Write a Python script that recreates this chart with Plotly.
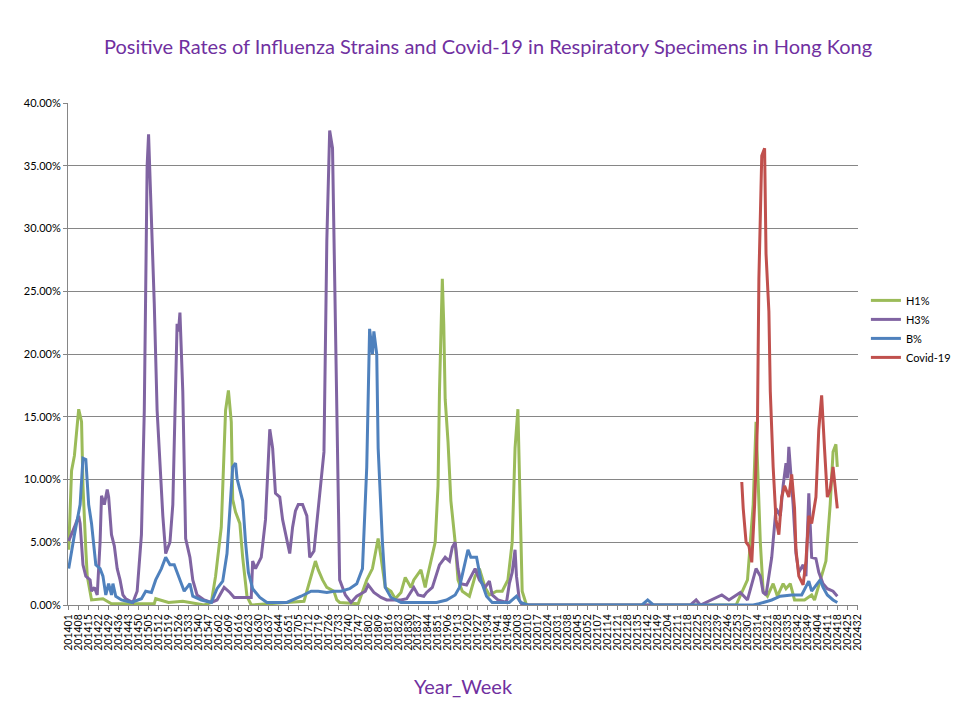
import plotly.graph_objects as go

# week counts per year as used in the source data
year_weeks = {2014: 52, 2015: 52, 2016: 53, 2017: 52, 2018: 52, 2019: 52,
              2020: 52, 2021: 52, 2022: 53, 2023: 52, 2024: 32}
weeks = [f"{y}{w:02d}" for y, n in year_weeks.items() for w in range(1, n + 1)]
tick_labels = weeks[::7]

h1_weeks = ["201401", "201403", "201405", "201408", "201410", "201411", "201413", "201414", "201417", "201425",
            "201431", "201509", "201510", "201519", "201529", "201544", "201549", "201552", "201604", "201607",
            "201609", "201611", "201612", "201614", "201617", "201619", "201622", "201625", "201709", "201717",
            "201719", "201722", "201725", "201730", "201732", "201734", "201747", "201801", "201805", "201809",
            "201811", "201814", "201818", "201821", "201825", "201828", "201832", "201834", "201839", "201842",
            "201843", "201846", "201849", "201851", "201852", "201902", "201903", "201904", "201906", "201908",
            "201911", "201913", "201916", "201921", "201925", "201928", "201932", "201935", "201940", "201944",
            "201948", "201951", "202001", "202003", "202004", "202006", "202009", "202252", "202307", "202311",
            "202313", "202316", "202318", "202321", "202325", "202328", "202332", "202334", "202337", "202340",
            "202347", "202352", "202402", "202406", "202410", "202413", "202415", "202417", "202418"]
h1_vals = [4.4, 10.7, 11.9, 15.6, 14.6, 9.5, 4.4, 2.3, 0.4, 0.5,
           0.1, 0.1, 0.5, 0.2, 0.3, 0.0, 0.2, 2.3, 6.2, 15.5,
           17.1, 14.6, 8.4, 7.4, 6.5, 3.8, 0.7, 0.0, 0.3, 3.5,
           2.8, 2.0, 1.4, 1.1, 0.4, 0.2, 0.1, 2.0, 2.9, 5.3,
           3.8, 1.4, 1.1, 0.5, 1.0, 2.2, 1.4, 2.0, 2.8, 1.4,
           2.0, 3.5, 5.0, 9.5, 17.0, 26.0, 22.4, 16.4, 13.0, 8.3,
           5.0, 2.0, 1.1, 0.7, 2.3, 2.9, 1.4, 0.8, 1.1, 1.1,
           2.0, 5.0, 12.5, 15.6, 11.0, 1.1, 0.0, 0.0, 2.0, 8.0,
           14.6, 5.0, 1.1, 0.7, 1.7, 0.7, 1.7, 1.3, 1.7, 0.4,
           0.4, 0.8, 0.4, 2.0, 3.5, 8.0, 12.2, 12.8, 11.0]

h3_weeks = ["201401", "201403", "201405", "201408", "201409", "201411", "201413", "201416", "201417", "201419",
            "201421", "201423", "201424", "201426", "201428", "201429", "201431", "201433", "201435", "201437",
            "201439", "201441", "201446", "201449", "201452", "201502", "201504", "201505", "201507", "201509",
            "201511", "201515", "201517", "201520", "201522", "201525", "201526", "201527", "201529", "201531",
            "201534", "201536", "201539", "201544", "201549", "201601", "201606", "201610", "201613", "201625",
            "201626", "201628", "201632", "201635", "201638", "201640", "201642", "201645", "201647", "201650",
            "201652", "201701", "201703", "201705", "201708", "201711", "201713", "201716", "201718", "201721",
            "201723", "201725", "201727", "201729", "201731", "201734", "201738", "201742", "201746", "201752",
            "201802", "201806", "201811", "201815", "201825", "201829", "201834", "201837", "201841", "201843",
            "201847", "201852", "201904", "201907", "201909", "201911", "201913", "201915", "201919", "201922",
            "201925", "201928", "201932", "201935", "201937", "201941", "201947", "201949", "201951", "202001",
            "202002", "202004", "202006", "202220", "202224", "202227", "202242", "202247", "202302", "202307",
            "202311", "202313", "202316", "202318", "202320", "202324", "202327", "202330", "202332", "202334",
            "202335", "202336", "202339", "202341", "202343", "202346", "202348", "202350", "202352", "202403",
            "202405", "202408", "202411", "202415", "202418"]
h3_vals = [5.1, 5.6, 6.2, 7.1, 6.5, 3.2, 2.3, 2.0, 1.1, 1.4,
           0.8, 5.0, 8.7, 8.0, 9.2, 8.6, 5.6, 4.7, 2.9, 2.0,
           0.8, 0.5, 0.2, 1.1, 5.6, 15.5, 35.0, 37.5, 31.0, 24.0,
           15.5, 7.1, 4.1, 5.0, 8.0, 22.4, 21.8, 23.3, 17.0, 5.3,
           3.8, 2.0, 0.8, 0.4, 0.2, 0.4, 1.4, 1.0, 0.6, 0.6,
           3.5, 2.9, 3.8, 6.8, 14.0, 12.5, 8.9, 8.6, 6.8, 5.0,
           4.1, 6.2, 7.5, 8.0, 8.0, 7.1, 3.8, 4.3, 6.5, 10.1,
           12.2, 29.0, 37.8, 36.4, 23.0, 2.0, 0.8, 0.2, 0.7, 1.1,
           1.6, 1.0, 0.6, 0.4, 0.4, 0.5, 1.4, 0.8, 0.7, 1.0,
           1.4, 3.2, 3.8, 3.5, 4.6, 5.0, 2.9, 1.7, 1.6, 2.3,
           2.9, 2.0, 1.4, 1.9, 0.8, 0.4, 0.2, 1.7, 2.6, 4.4,
           2.3, 0.4, 0.0, 0.0, 0.4, 0.0, 0.8, 0.4, 1.0, 0.4,
           2.0, 2.9, 2.3, 1.0, 0.8, 3.8, 7.7, 7.1, 9.5, 11.3,
           10.1, 12.6, 8.0, 4.1, 2.6, 3.2, 2.3, 8.9, 3.8, 3.7,
           2.6, 1.7, 1.3, 1.1, 0.7]

b_weeks = ["201401", "201403", "201405", "201409", "201411", "201413", "201415", "201417", "201420", "201423",
           "201425", "201427", "201429", "201431", "201432", "201434", "201438", "201445", "201452", "201503",
           "201507", "201510", "201514", "201517", "201520", "201523", "201527", "201530", "201534", "201536",
           "201542", "201549", "201601", "201605", "201608", "201610", "201612", "201614", "201615", "201617",
           "201619", "201621", "201623", "201626", "201631", "201636", "201650", "201707", "201714", "201719",
           "201725", "201730", "201735", "201741", "201746", "201750", "201801", "201803", "201805", "201806",
           "201808", "201809", "201812", "201814", "201818", "201825", "201841", "201850", "201905", "201911",
           "201914", "201917", "201920", "201922", "201926", "201929", "201933", "201937", "201949", "202002",
           "202005", "202010", "202138", "202142", "202146", "202311", "202315", "202324", "202330", "202338",
           "202345", "202350", "202352", "202404", "202406", "202408", "202411", "202415", "202418"]
b_vals = [2.9, 4.4, 5.6, 8.0, 11.7, 11.6, 8.0, 6.5, 3.2, 2.9,
          2.3, 0.8, 1.7, 0.8, 1.7, 0.7, 0.4, 0.2, 0.5, 1.1,
          1.0, 2.0, 2.9, 3.8, 3.2, 3.2, 2.0, 1.1, 1.7, 0.7,
          0.4, 0.2, 1.3, 1.9, 4.1, 8.0, 11.0, 11.3, 10.1, 9.2,
          8.3, 5.0, 2.6, 1.3, 0.6, 0.2, 0.2, 0.7, 1.1, 1.1,
          1.0, 1.1, 1.1, 1.3, 1.7, 2.9, 11.0, 22.0, 20.0, 21.8,
          20.0, 12.5, 5.0, 1.4, 0.6, 0.2, 0.2, 0.2, 0.4, 0.8,
          1.4, 2.9, 4.4, 3.8, 3.8, 2.0, 0.7, 0.2, 0.2, 0.7,
          0.2, 0.0, 0.0, 0.4, 0.0, 0.0, 0.1, 0.4, 0.7, 0.8,
          0.8, 1.9, 1.1, 1.7, 2.0, 1.4, 0.8, 0.4, 0.2]

cov_weeks = ["202303", "202304", "202306", "202308", "202310", "202312", "202314", "202315", "202317", "202319",
             "202320", "202322", "202323", "202325", "202327", "202329", "202331", "202333", "202336", "202338",
             "202340", "202341", "202343", "202346", "202348", "202350", "202352", "202403", "202405", "202407",
             "202409", "202411", "202413", "202415", "202418"]
cov_vals = [9.8, 7.7, 5.0, 4.7, 3.4, 8.0, 14.6, 26.0, 35.8, 36.4,
            28.0, 23.4, 17.0, 11.0, 6.8, 5.6, 8.6, 9.5, 8.6, 10.4,
            7.7, 4.4, 2.3, 1.6, 3.5, 7.1, 6.5, 8.6, 14.0, 16.7,
            12.5, 8.6, 9.2, 11.0, 7.7]

series = [("H1%", h1_weeks, h1_vals, "#9BBB59"),
          ("H3%", h3_weeks, h3_vals, "#8064A2"),
          ("B%", b_weeks, b_vals, "#4F81BD"),
          ("Covid-19", cov_weeks, cov_vals, "#C0504D")]

fig = go.Figure()
for name, wk, vals, color in series:
    fig.add_trace(go.Scatter(x=wk, y=[v / 100 for v in vals], name=name, mode="lines",
                             line=dict(color=color, width=3)))

fig.update_layout(
    width=960, height=720,
    paper_bgcolor="white", plot_bgcolor="white",
    font=dict(family="Lato, Open Sans, sans-serif", color="#000000"),
    title=dict(text="Positive Rates of Influenza Strains and Covid-19 in Respiratory Specimens in Hong Kong",
               x=0.5, xanchor="center", y=0.955, font=dict(size=20, color="#7030A0")),
    margin=dict(l=60, r=110, t=95, b=123),
    showlegend=True,
    legend=dict(x=1.01, y=0.55, yanchor="middle", font=dict(size=11), tracegroupgap=8,
                itemwidth=30, bgcolor="rgba(0,0,0,0)"),
)
fig.update_xaxes(type="category", categoryorder="array", categoryarray=weeks,
                 range=[-0.5, len(weeks) - 0.5], tickmode="array", tickvals=tick_labels,
                 ticktext=tick_labels, tickangle=-90, tickfont=dict(size=10.5),
                 showgrid=False, showline=True, linecolor="#868686", ticks="outside",
                 tickcolor="#868686", ticklen=4,
                 title=dict(text="Year_Week", font=dict(size=20, color="#7030A0"), standoff=30))
fig.update_yaxes(range=[0, 0.4], dtick=0.05, tickformat=".2%", tickfont=dict(size=11),
                 showgrid=True, gridcolor="#868686", gridwidth=1, showline=True,
                 linecolor="#868686", ticks="outside", tickcolor="#868686", ticklen=4,
                 zeroline=False)

fig.write_html("out.html")
